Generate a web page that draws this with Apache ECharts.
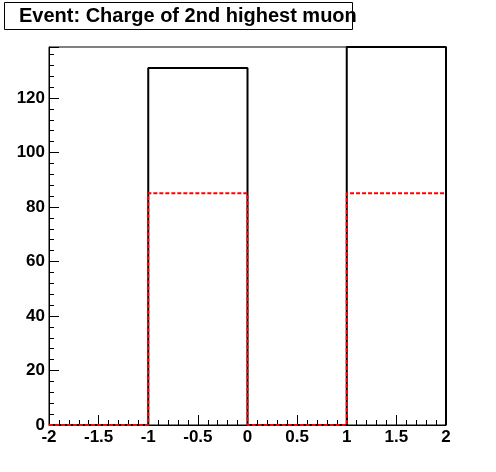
<!DOCTYPE html>
<html>
<head>
<meta charset="utf-8">
<script src="https://cdn.jsdelivr.net/npm/echarts@6/dist/echarts.min.js"></script>
<style>
html,body{margin:0;padding:0;background:#fff;}
#chart{width:496px;height:472px;}
</style>
</head>
<body>
<div id="chart"></div>
<script>
// Data
const titleText = "Event: Charge of 2nd highest muon";
const binEdges = [-2, -1, 0, 1, 2];
const blackValues = [0, 131, 0, 138.7];
const redValues = [0, 85, 0, 85];
const yMax = 138.7;

function stepPoints(edges, vals, closeRight) {
  const pts = [];
  for (let i = 0; i < vals.length; i++) {
    pts.push([edges[i], vals[i]]);
    pts.push([edges[i + 1], vals[i]]);
  }
  if (closeRight) pts.push([edges[edges.length - 1], 0]);
  return pts;
}

const chart = echarts.init(document.getElementById('chart'), null, {renderer: 'canvas'});
const font = '"Liberation Sans", Arial, Helvetica, sans-serif';
chart.setOption({
  animation: false,
  backgroundColor: '#fff',
  grid: {left: 49, right: 50, top: 47, bottom: 47, show: true, borderColor: '#000', borderWidth: 1, backgroundColor: 'transparent'},
  xAxis: {
    type: 'value', min: -2, max: 2, interval: 0.5,
    axisLine: {show: true, onZero: false, lineStyle: {color: '#000', width: 1}},
    axisTick: {show: true, inside: true, length: 10, lineStyle: {color: '#000'}},
    minorTick: {show: true, splitNumber: 5, length: 5, lineStyle: {color: '#000'}},
    splitLine: {show: false},
    axisLabel: {color: '#000', fontFamily: font, fontWeight: 'bold', fontSize: 17, margin: 4}
  },
  yAxis: {
    type: 'value', min: 0, max: yMax, interval: 20,
    axisLine: {show: true, onZero: false, lineStyle: {color: '#000', width: 1}},
    axisTick: {show: true, inside: true, length: 10, lineStyle: {color: '#000'}},
    minorTick: {show: true, splitNumber: 5, length: 5, lineStyle: {color: '#000'}},
    splitLine: {show: false},
    axisLabel: {color: '#000', fontFamily: font, fontWeight: 'bold', fontSize: 17, margin: 4, showMaxLabel: false}
  },
  series: [
    {
      type: 'line', data: stepPoints(binEdges, blackValues, true), symbol: 'none',
      lineStyle: {color: '#000', width: 2}, z: 3
    },
    {
      type: 'line', data: stepPoints(binEdges, redValues, false), symbol: 'none',
      lineStyle: {color: '#ff0000', width: 2, type: [4, 2]}, z: 4
    }
  ],
  graphic: [
    {type: 'rect', shape: {x: 4.5, y: 2.5, width: 348, height: 27}, style: {fill: '#fff', stroke: '#000', lineWidth: 1}, z: 10},
    {type: 'text', x: 19, y: 16, style: {text: titleText, font: 'bold 20px ' + font, fill: '#000', textVerticalAlign: 'middle'}, z: 11}
  ]
});
</script>
</body>
</html>
